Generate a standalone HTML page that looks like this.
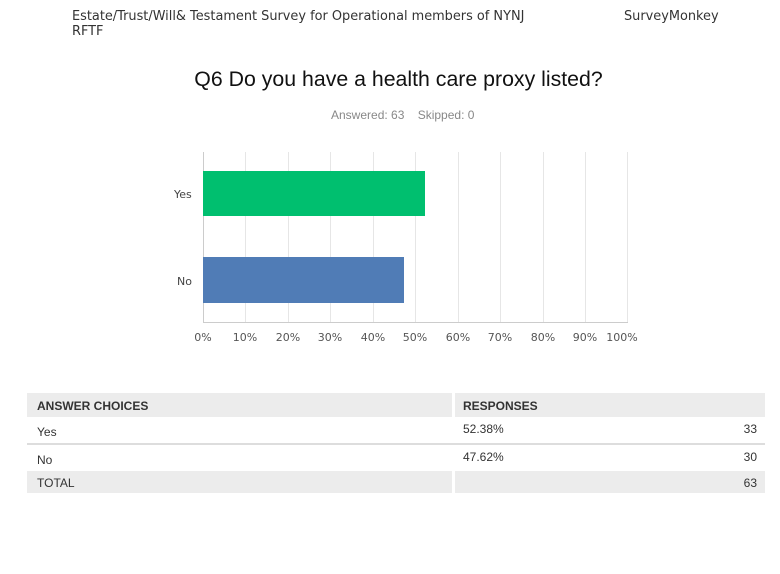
<!DOCTYPE html>
<html><head><meta charset="utf-8"><style>
body{margin:0;width:780px;height:574px;background:#fff;position:relative;font-family:"Liberation Sans",sans-serif;overflow:hidden}
.a{position:absolute;white-space:nowrap}
.hdr{font-family:"DejaVu Sans",sans-serif;font-size:12.9px;color:#333}
.tick{font-size:11px;color:#555;position:absolute;top:331px;width:40px;text-align:center;font-family:"DejaVu Sans",sans-serif}
.g{position:absolute;top:152px;height:171px;width:1px;background:#e6e6e6}
.cell{position:absolute;font-size:12px;color:#333}
</style></head><body>
<div class="a hdr" style="left:72px;top:9px;line-height:15px">Estate/Trust/Will&amp; Testament Survey for Operational members of NYNJ<br>RFTF</div>
<div class="a hdr" style="left:624px;top:9px">SurveyMonkey</div>
<div class="a" style="left:0;width:797px;text-align:center;top:67px;font-size:21.3px;color:#111">Q6 Do you have a health care proxy listed?</div>
<div class="a" style="left:331px;top:108px;font-size:12px;color:#888">Answered: 63&nbsp;&nbsp;&nbsp;&nbsp;Skipped: 0</div>
<div class="g" style="left:245px"></div><div class="g" style="left:288px"></div><div class="g" style="left:330px"></div><div class="g" style="left:373px"></div><div class="g" style="left:415px"></div><div class="g" style="left:458px"></div><div class="g" style="left:500px"></div><div class="g" style="left:543px"></div><div class="g" style="left:585px"></div><div class="g" style="left:627px"></div>
<div class="a" style="left:203px;top:152px;width:1px;height:171px;background:#ccc"></div>
<div class="a" style="left:203px;top:322px;width:425px;height:1px;background:#ccc"></div>
<div class="a" style="left:203px;top:171px;width:222px;height:45px;background:#00bf6f"></div>
<div class="a" style="left:203px;top:257px;width:201px;height:46px;background:#507cb6"></div>
<div class="a" style="left:174px;top:188px;font-size:11px;color:#444;font-family:'DejaVu Sans',sans-serif">Yes</div>
<div class="a" style="left:177px;top:275px;font-size:11px;color:#444;font-family:'DejaVu Sans',sans-serif">No</div>
<div class="tick" style="left:183px">0%</div><div class="tick" style="left:225px">10%</div><div class="tick" style="left:268px">20%</div><div class="tick" style="left:310px">30%</div><div class="tick" style="left:353px">40%</div><div class="tick" style="left:395px">50%</div><div class="tick" style="left:438px">60%</div><div class="tick" style="left:480px">70%</div><div class="tick" style="left:523px">80%</div><div class="tick" style="left:565px">90%</div><div class="tick" style="left:602px">100%</div>
<div class="a" style="left:27px;top:393px;width:425px;height:24px;background:#ececec"></div>
<div class="a" style="left:455px;top:393px;width:310px;height:24px;background:#ececec"></div>
<div class="cell" style="left:37px;top:399px;font-weight:bold">ANSWER CHOICES</div>
<div class="cell" style="left:463px;top:399px;font-weight:bold">RESPONSES</div>
<div class="cell" style="left:37px;top:425px">Yes</div>
<div class="cell" style="left:463px;top:422px">52.38%</div>
<div class="cell" style="left:735px;top:422px;width:22px;text-align:right">33</div>
<div class="a" style="left:27px;top:443px;width:738px;height:2px;background:#ddd"></div>
<div class="cell" style="left:37px;top:453px">No</div>
<div class="cell" style="left:463px;top:450px">47.62%</div>
<div class="cell" style="left:735px;top:450px;width:22px;text-align:right">30</div>
<div class="a" style="left:27px;top:471px;width:425px;height:22px;background:#ececec"></div>
<div class="a" style="left:455px;top:471px;width:310px;height:22px;background:#ececec"></div>
<div class="cell" style="left:37px;top:476px">TOTAL</div>
<div class="cell" style="left:735px;top:476px;width:22px;text-align:right">63</div>
</body></html>
